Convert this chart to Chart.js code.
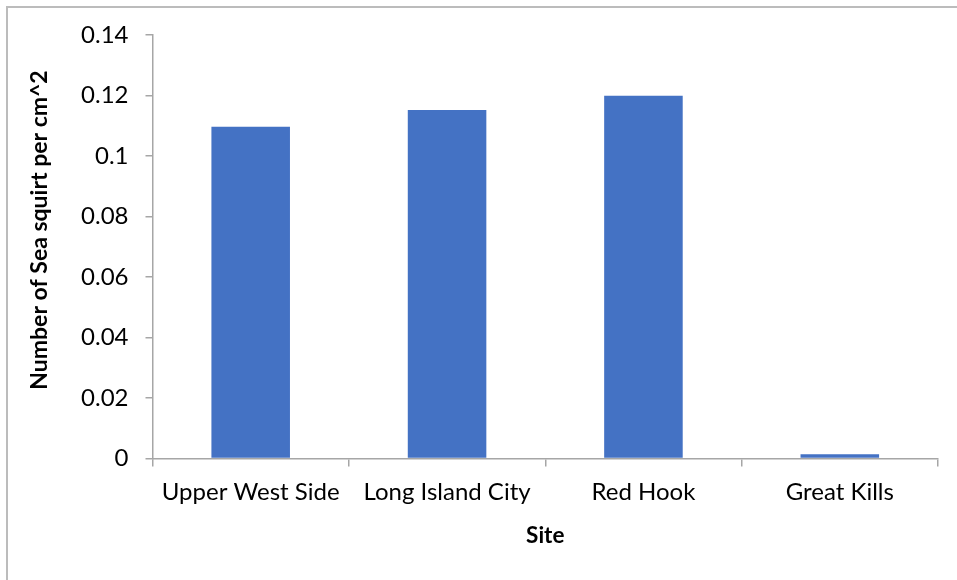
<!DOCTYPE html>
<html>
<head>
<meta charset="utf-8">
<title>Sea squirt density by site</title>
<script src="https://cdn.jsdelivr.net/npm/chart.js@4.4.1/dist/chart.umd.min.js"></script>
<style>
  html, body { margin: 0; padding: 0; background: #fff; }
  #wrap { width: 957px; height: 580px; }
</style>
</head>
<body>
<div id="wrap"><canvas id="chart" width="957" height="580"></canvas></div>
<script>
// ===== Data =====
const sites = ['Upper West Side', 'Long Island City', 'Red Hook', 'Great Kills'];
const squirtsPerCm2 = [0.1097, 0.1152, 0.1199, 0.0014];
const yTickValues = [0, 0.02, 0.04, 0.06, 0.08, 0.1, 0.12, 0.14];
const yTickLabels = ['0', '0.02', '0.04', '0.06', '0.08', '0.1', '0.12', '0.14'];

const FONT = "Lato, 'Open Sans', sans-serif";
const AXIS_GREY = '#a6a6a6';

// frame around the whole chart (left and top edges only show in the window)
const chartFrame = {
  id: 'chartFrame',
  beforeDraw(chart) {
    const { ctx } = chart;
    ctx.save();
    ctx.fillStyle = '#fff';
    ctx.fillRect(0, 0, chart.width, chart.height);
    ctx.strokeStyle = '#bcbcbc';
    ctx.lineWidth = 2;
    ctx.beginPath();
    ctx.moveTo(7, chart.height + 2);
    ctx.lineTo(7, 7);
    ctx.lineTo(chart.width + 2, 7);
    ctx.stroke();
    ctx.restore();
  },
};

new Chart(document.getElementById('chart'), {
  type: 'bar',
  data: {
    labels: sites,
    datasets: [{
      label: 'Number of Sea squirt per cm^2',
      data: squirtsPerCm2,
      backgroundColor: '#4472c4',
      borderWidth: 0,
      barPercentage: 0.4,
      categoryPercentage: 1.0,
    }],
  },
  options: {
    responsive: false,
    animation: false,
    events: [],
    layout: { padding: { top: 35, right: 19, bottom: 0, left: 0 } },
    plugins: {
      legend: { display: false },
      tooltip: { enabled: false },
    },
    scales: {
      x: {
        offset: true,
        afterFit: (s) => { s.height = 121.5; },
        grid: {
          offset: true,
          drawOnChartArea: false,
          drawTicks: true,
          tickLength: 8,
          color: AXIS_GREY,
          lineWidth: 1.5,
        },
        border: { display: true, color: AXIS_GREY, width: 1.5 },
        ticks: {
          color: '#000',
          padding: 11,
          maxRotation: 0,
          autoSkip: false,
          font: { family: FONT, size: 24 },
        },
        title: {
          display: true,
          text: 'Site',
          color: '#000',
          padding: { top: 0, bottom: 31 },
          font: { family: FONT, size: 22.5, weight: 'bold' },
        },
      },
      y: {
        min: 0,
        max: 0.14,
        afterFit: (s) => { s.width = 152.5; },
        afterBuildTicks: (s) => { s.ticks = yTickValues.map(v => ({ value: v })); },
        grid: {
          drawOnChartArea: false,
          drawTicks: true,
          tickLength: 7,
          color: AXIS_GREY,
          lineWidth: 1.5,
        },
        border: { display: true, color: AXIS_GREY, width: 1.5 },
        ticks: {
          color: '#000',
          padding: 17,
          font: { family: FONT, size: 24 },
          callback: (v, i) => yTickLabels[i],
        },
        title: {
          display: true,
          // leading spaces nudge the rotated title a little above the axis middle
          text: '      Number of Sea squirt per cm^2',
          color: '#000',
          padding: { top: 26, bottom: 0 },
          font: { family: FONT, size: 23, weight: 'bold' },
        },
      },
    },
  },
  plugins: [chartFrame],
});
</script>
</body>
</html>
